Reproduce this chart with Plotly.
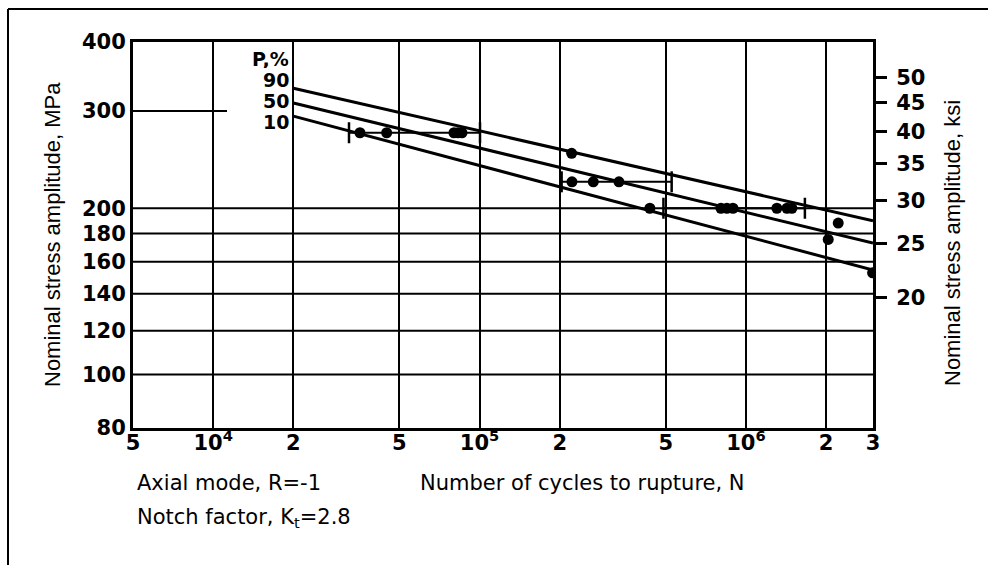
import math
import plotly.graph_objects as go

# ---------------- data ----------------
MPA_PER_KSI = 6.895

line_N = [2e4, 3e6]
line_p90 = [329.8, 189.8]
line_p50 = [310.1, 173.0]
line_p10 = [293.6, 154.6]

point_N = [35560, 44800, 80170, 83000, 85900,
           221700,
           222300, 267300, 333700,
           436000,
           805800, 848600, 894000, 1307000, 1426000, 1488000,
           2037000, 2221000, 2989000]
point_S = [274, 274, 274, 274, 274,
           251.5,
           223.3, 223.3, 223.3,
           200,
           200, 200, 200, 200, 200, 200,
           175.6, 188.0, 152.8]

bar_lo = [32350, 203300, 490200]
bar_hi = [100400, 526300, 1665000]
bar_S = [274, 223.3, 200]

x_tickvals = [5e3, 1e4, 2e4, 5e4, 1e5, 2e5, 5e5, 1e6, 2e6, 3e6]
x_ticktext = ["5", "10<sup>4</sup>", "2", "5", "10<sup>5</sup>", "2", "5", "10<sup>6</sup>", "2", "3"]
y_tickvals = [80, 100, 120, 140, 160, 180, 200, 300, 400]
y_gridvals = [100, 120, 140, 160, 180, 200]
partial_grid_S = 300
partial_grid_N = [5e3, 1.127e4]
ksi_tickvals = [20, 25, 30, 35, 40, 45, 50]
p_labels = ["P,%", "90", "50", "10"]

x_range = [5e3, 3e6]
y_range = [80, 400]

# ---------------- figure ----------------
BLACK = "#000000"
tick_font = dict(family="DejaVu Sans", size=21, color=BLACK, weight="bold")
label_font = dict(family="DejaVu Sans", size=19, color=BLACK, weight="bold")
note_font = dict(family="DejaVu Sans", size=21, color=BLACK)
title_font = dict(family="Liberation Sans, Arial", size=22, color=BLACK)

fig = go.Figure()

# horizontal grid lines
for g in y_gridvals:
    fig.add_trace(go.Scatter(x=x_range, y=[g, g], mode="lines",
                             line=dict(color=BLACK, width=2),
                             hoverinfo="skip", showlegend=False))
fig.add_trace(go.Scatter(x=partial_grid_N, y=[partial_grid_S, partial_grid_S], mode="lines",
                         line=dict(color=BLACK, width=2),
                         hoverinfo="skip", showlegend=False))

# P-S-N lines
for ys in (line_p90, line_p50, line_p10):
    fig.add_trace(go.Scatter(x=line_N, y=ys, mode="lines",
                             line=dict(color=BLACK, width=3),
                             hoverinfo="skip", showlegend=False))

# scatter bands
for lo, hi, s in zip(bar_lo, bar_hi, bar_S):
    fig.add_trace(go.Scatter(x=[lo, hi], y=[s, s], mode="lines+markers",
                             line=dict(color=BLACK, width=2),
                             marker=dict(symbol="line-ns-open", size=15,
                                         line=dict(color=BLACK, width=2.5)),
                             hoverinfo="skip", showlegend=False))

# test points
fig.add_trace(go.Scatter(x=point_N, y=point_S, mode="markers",
                         marker=dict(color=BLACK, size=11, line=dict(width=0)),
                         showlegend=False))

# invisible trace to activate the ksi axis
fig.add_trace(go.Scatter(x=[x_range[0]], y=[ksi_tickvals[0]], yaxis="y2", mode="markers",
                         marker=dict(opacity=0), hoverinfo="skip", showlegend=False))

fig.update_layout(
    width=988, height=565,
    margin=dict(l=133, r=115, t=42, b=137),
    paper_bgcolor="white", plot_bgcolor="white",
    xaxis=dict(type="log", range=[math.log10(x_range[0]), math.log10(x_range[1])],
               tickvals=x_tickvals, ticktext=x_ticktext, ticks="",
               showgrid=True, gridcolor=BLACK, gridwidth=2,
               showline=True, linecolor=BLACK, linewidth=3, mirror=True,
               zeroline=False, tickfont=tick_font, ticklabelstandoff=-6),
    yaxis=dict(type="log", range=[math.log10(y_range[0]), math.log10(y_range[1])],
               tickvals=y_tickvals, ticks="", showgrid=False,
               showline=True, linecolor=BLACK, linewidth=3, mirror=True,
               zeroline=False, tickfont=tick_font, ticklabelstandoff=0),
    yaxis2=dict(type="log", overlaying="y", side="right", anchor="x",
                range=[math.log10(y_range[0] / MPA_PER_KSI), math.log10(y_range[1] / MPA_PER_KSI)],
                tickvals=ksi_tickvals, ticks="outside", ticklen=13, tickwidth=2.5,
                tickcolor=BLACK, showgrid=False, showline=False, zeroline=False,
                tickfont=tick_font, ticklabelstandoff=5),
)

def px_x(px):
    return (px - 133) / 740.0

def px_y(py):
    return 1 - (py - 42) / 386.0

# P,% labels
p_label_y = [59, 80, 101, 122]
for lab, py in zip(p_labels, p_label_y):
    fig.add_annotation(text=lab, xref="paper", yref="paper", x=px_x(291), y=px_y(py),
                       xanchor="right", yanchor="middle", showarrow=False,
                       height=18, valign="middle", font=label_font)

# axis titles and notes
fig.add_annotation(text="Nominal stress amplitude, MPa", xref="paper", yref="paper",
                   x=px_x(52), y=px_y(235), textangle=-90, showarrow=False,
                   xanchor="center", yanchor="middle", font=title_font)
fig.add_annotation(text="Nominal stress amplitude, ksi", xref="paper", yref="paper",
                   x=px_x(953), y=px_y(243), textangle=-90, showarrow=False,
                   xanchor="center", yanchor="middle", font=title_font)
fig.add_annotation(text="Axial mode, R=-1", xref="paper", yref="paper",
                   x=px_x(135), y=px_y(483), xanchor="left", yanchor="middle",
                   showarrow=False, font=note_font)
fig.add_annotation(text="Notch factor, K<sub>t</sub>=2.8", xref="paper", yref="paper",
                   x=px_x(135), y=px_y(518), xanchor="left", yanchor="middle",
                   showarrow=False, font=note_font)
fig.add_annotation(text="Number of cycles to rupture, N", xref="paper", yref="paper",
                   x=px_x(418), y=px_y(483), xanchor="left", yanchor="middle",
                   showarrow=False, font=note_font)

# outer frame (top and left edges)
fig.add_shape(type="line", xref="paper", yref="paper", x0=px_x(8), x1=px_x(990),
              y0=px_y(9), y1=px_y(9), line=dict(color=BLACK, width=2))
fig.add_shape(type="line", xref="paper", yref="paper", x0=px_x(8), x1=px_x(8),
              y0=px_y(9), y1=px_y(567), line=dict(color=BLACK, width=2))

fig.write_html("out.html", config={"displayModeBar": False},
               post_script="document.body.style.margin='0px';")
